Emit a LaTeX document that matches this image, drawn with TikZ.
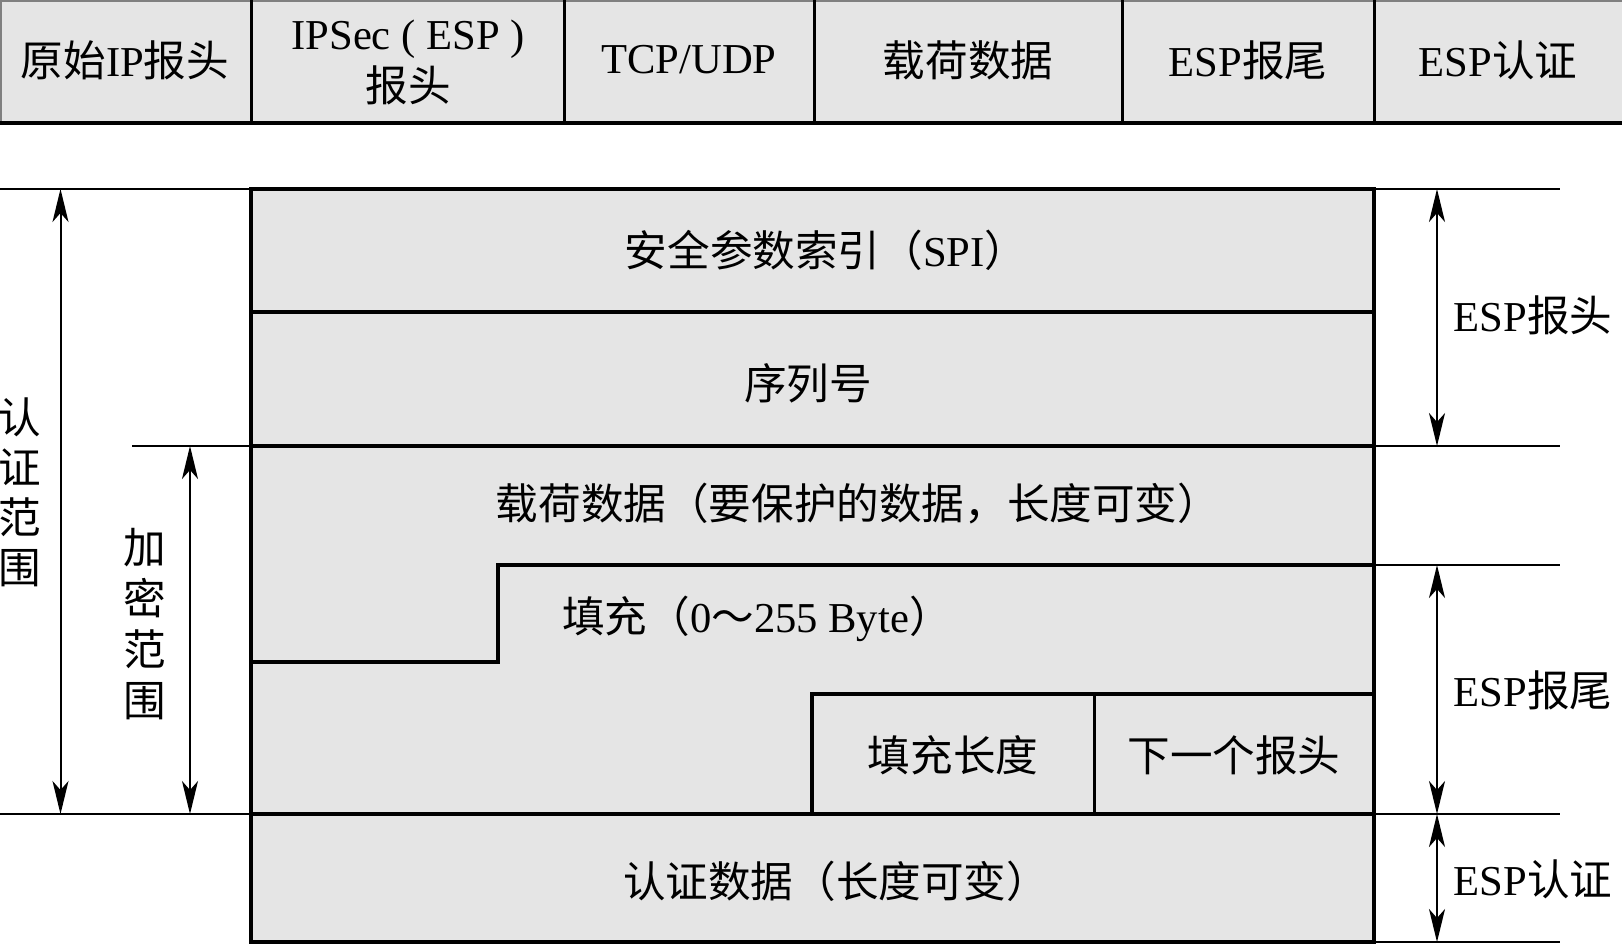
\documentclass[tikz,border=0pt]{standalone}
\usepackage{fontspec}
\setmainfont{Liberation Serif}
\newfontfamily\cjk{Noto Sans CJK SC}
\usetikzlibrary{arrows.meta}
\definecolor{cellgray}{HTML}{E5E5E5}
\begin{document}
\begin{tikzpicture}[x=0.5pt,y=-0.5pt,
  lbl/.style={font=\fontsize{21.3}{26}\selectfont, inner sep=0pt, align=center},
  thickln/.style={line width=2pt, line cap=rect},
  midln/.style={line width=1.5pt},
  thinln/.style={line width=1pt},
  dimarrow/.style={line width=1pt, {Stealth[length=16.5pt,width=8pt,inset=4.5pt]}-{Stealth[length=16.5pt,width=8pt,inset=4.5pt]}}
]
\useasboundingbox (0,0) rectangle (1622,944);

% ---------- top row ----------
\fill[cellgray] (0,0) rectangle (1622,123);
\draw[thinln, gray] (0,1) -- (1622,1);
\draw[thinln, gray] (1,0) -- (1,123);
\foreach \xx in {251,564,814,1122,1374} \draw[midln] (\xx,0) -- (\xx,123);
\draw[thickln] (0,123) -- (1622,123);

\node[lbl] (h1) at (125,60) {{\cjk 原始}IP{\cjk 报头}};
\node[lbl] (h2) at (408,62) {IPSec ( ESP )\\{\cjk 报头}};
\node[lbl] (h3) at (689,60) {TCP/UDP};
\node[lbl] (h4) at (968,60) {{\cjk 载荷数据}};
\node[lbl] (h5) at (1248,60) {ESP{\cjk 报尾}};
\node[lbl] (h6) at (1498,60) {ESP{\cjk 认证}};

% ---------- main ESP packet ----------
\fill[cellgray] (251,189) rectangle (1374,942);
\draw[thickln] (251,189) rectangle (1374,942);
\draw[thickln] (251,312) -- (1374,312);
\draw[thickln] (251,446) -- (1374,446);
\draw[thickln] (251,662) -- (498,662) -- (498,565) -- (1374,565);
\draw[thickln] (812,814) -- (812,694) -- (1374,694);
\draw[midln] (1094,694) -- (1094,814);
\draw[thickln] (251,814) -- (1374,814);

% extension lines
\draw[thinln] (0,189) -- (251,189);
\draw[thinln] (1374,189) -- (1560,189);
\draw[thinln] (132,446) -- (251,446);
\draw[thinln] (1374,446) -- (1560,446);
\draw[thinln] (1374,565) -- (1560,565);
\draw[thinln] (0,814) -- (251,814);
\draw[thinln] (1374,814) -- (1560,814);
\draw[thinln] (1374,942) -- (1560,942);

% dimension arrow end points
\coordinate (authT) at (60.5,189);
\coordinate (authB) at (60.5,814);
\coordinate (encT) at (190,446);
\coordinate (encB) at (190,814);
\coordinate (hdrT) at (1437,189);
\coordinate (hdrB) at (1437,446);
\coordinate (trlT) at (1437,565);
\coordinate (trlB) at (1437,814);
\coordinate (icvT) at (1437,814);
\coordinate (icvB) at (1437,942);

\draw[dimarrow] (authT) -- (authB);
\draw[dimarrow] (encT) -- (encB);
\draw[dimarrow] (hdrT) -- (hdrB);
\draw[dimarrow] (trlT) -- (trlB);
\draw[dimarrow] (icvT) -- (icvB);

% field texts
\node[lbl] (spi) at (826,250) {{\cjk 安全参数索引（}SPI{\cjk ）}};
\node[lbl] (seq) at (808,383) {{\cjk 序列号}};
\node[lbl] (pay) at (858,504) {{\cjk 载荷数据（要保护的数据，长度可变）}};
\node[lbl] (pad) at (757,619) {{\cjk 填充（}0{\cjk ～}255 Byte{\cjk ）}};
\node[lbl] (padlen) at (953,755) {{\cjk 填充长度}};
\node[lbl] (nxt) at (1234,755) {{\cjk 下一个报头}};
\node[lbl] (icv) at (836,881) {{\cjk 认证数据（长度可变）}};

% side labels
\node[lbl, font=\fontsize{21.3}{25}\selectfont] (authlbl) at (20,492) {{\cjk 认}\\{\cjk 证}\\{\cjk 范}\\{\cjk 围}};
\node[lbl, font=\fontsize{21.3}{25.5}\selectfont] (enclbl) at (145,624) {{\cjk 加}\\{\cjk 密}\\{\cjk 范}\\{\cjk 围}};
\node[lbl] (hdrlbl) at (1533,315) {ESP{\cjk 报头}};
\node[lbl] (trllbl) at (1533,690) {ESP{\cjk 报尾}};
\node[lbl] (icvlbl) at (1533,879) {ESP{\cjk 认证}};
\end{tikzpicture}
\end{document}
